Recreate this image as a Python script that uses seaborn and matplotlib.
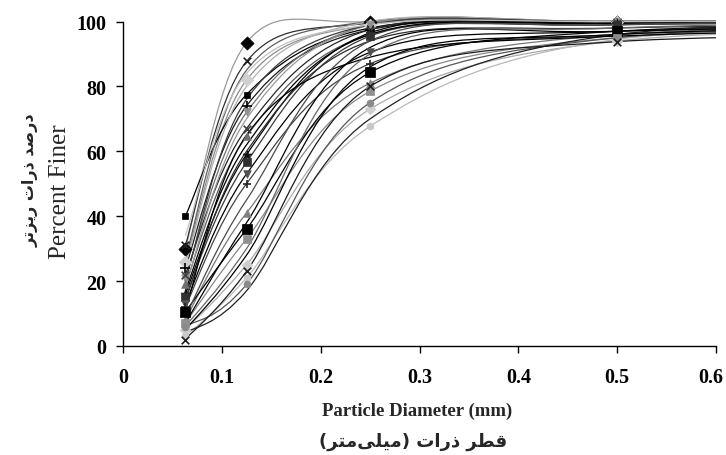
import numpy as np
import pandas as pd
import matplotlib
matplotlib.use("Agg")
import matplotlib.pyplot as plt
from matplotlib.path import Path
from matplotlib.patches import PathPatch
from matplotlib.transforms import ScaledTranslation
import seaborn as sns

# ---------------- data ----------------
diameters = [0.063, 0.125, 0.25, 0.5, 1.0]   # mm (1.0 lies beyond the visible range)

s01 = [30, 93.5, 100, 100, 100]
s02 = [31, 87.7, 99.5, 100, 100]
s03 = [26, 82, 99, 100, 100]
s04 = [40, 77.5, 98, 100, 100]
s05 = [24, 74, 97.5, 99.5, 100]
s06 = [21, 72, 99, 100, 100]
s07 = [22, 67, 97.5, 99.5, 100]
s08 = [19, 64.6, 96, 99, 100]
s09 = [16, 59, 96.5, 99.5, 100]
s10 = [15, 56.6, 95.5, 99, 100]
s11 = [13, 53, 90.5, 97, 99]
s12 = [12, 50, 87, 96, 99]
s13 = [8, 41, 81, 96, 99]
s14 = [10.5, 36, 84.3, 97, 99]
s15 = [7, 33, 78.5, 95, 98.5]
s16 = [5, 25, 73, 94, 98]
s17 = [3, 21, 67.7, 94.5, 98]
s18 = [6, 19, 75, 95, 99]
s19 = [4, 17, 70, 96, 99.5]
s20 = [2, 23, 80, 93.8, 95.5]
s21 = [27, 85, 100, 100, 100]
s22 = [18, 70, 99, 100, 100]
s23 = [17, 62, 96, 99.5, 100]
s24 = [14, 60, 94, 98, 99.5]
s25 = [11, 65, 89, 95.5, 98.5]
s26 = [9, 45, 94, 99, 100]
s27 = [7, 38, 92, 97, 99]
s28 = [6, 30, 90, 98, 100]
s29 = [25, 80, 100, 100, 100]
s30 = [20, 76, 99, 100, 100]
s31 = [5, 28, 86, 96, 99]
s32 = [34, 84, 99, 100, 100]

series = [s01, s02, s03, s04, s05, s06, s07, s08, s09, s10, s11, s12, s13, s14,
          s15, s16, s17, s18, s19, s20, s21, s22, s23, s24, s25, s26, s27, s28,
          s29, s30, s31, s32]
names = ["S%02d" % (i + 1) for i in range(len(series))]

line_colors = ["#9a9a9a", "#303030", "#8c8c8c", "#000000", "#1a1a1a", "#707070",
               "#262626", "#5a5a5a", "#000000", "#3a3a3a", "#000000", "#444444",
               "#777777", "#000000", "#888888", "#aaaaaa", "#b8b8b8", "#555555",
               "#202020", "#1a1a1a", "#606060", "#999999", "#000000", "#2d2d2d",
               "#000000", "#4a4a4a", "#000000", "#666666", "#b0b0b0", "#3c3c3c",
               "#000000", "#c0c0c0"]
marker_styles = ["D", "x", "D", "s", "+", "v", "x", "^", "*", "s", "v", "+",
                 "^", "s", "s", "D", "o", "o", "", "x", "", "", "", "",
                 "", "", "", "", "", "", "", ""]
marker_colors = ["#000000", "#202020", "#d0d0d0", "#000000", "#000000", "#909090",
                 "#404040", "#707070", "#101010", "#303030", "#505050", "#222222",
                 "#808080", "#000000", "#909090", "#cfcfcf", "#c8c8c8", "#8a8a8a",
                 "#000000", "#202020", "#000000", "#000000", "#000000", "#000000",
                 "#000000", "#000000", "#000000", "#000000", "#000000", "#000000",
                 "#000000", "#000000"]
marker_sizes = [45, 30, 40, 18, 45, 30, 30, 30, 45, 30, 30, 40,
                30, 60, 30, 30, 25, 25, 0, 30, 0, 0, 0, 0,
                0, 0, 0, 0, 0, 0, 0, 0]

x_ticks = [0, 0.1, 0.2, 0.3, 0.4, 0.5, 0.6]
x_tick_labels = ["0", "0.1", "0.2", "0.3", "0.4", "0.5", "0.6"]
y_ticks = [0, 20, 40, 60, 80, 100]
y_tick_labels = ["0", "20", "40", "60", "80", "100"]

x_label_en = "Particle Diameter (mm)"
x_label_fa = "قطر ذرات (میلی\u200cمتر)"
y_label_en = "Percent Finer"
y_label_fa = "درصد ذرات ریزتر"

# ---------------- Persian shaping (matplotlib has no bidi/shaping) ----------------
FORMS = {
    'ا': ('\uFE8D', '\uFE8E', None, None),
    'ت': ('\uFE95', '\uFE96', '\uFE97', '\uFE98'),
    'د': ('\uFEA9', '\uFEAA', None, None),
    'ذ': ('\uFEAB', '\uFEAC', None, None),
    'ر': ('\uFEAD', '\uFEAE', None, None),
    'ز': ('\uFEAF', '\uFEB0', None, None),
    'ص': ('\uFEB9', '\uFEBA', '\uFEBB', '\uFEBC'),
    'ط': ('\uFEC1', '\uFEC2', '\uFEC3', '\uFEC4'),
    'ق': ('\uFED5', '\uFED6', '\uFED7', '\uFED8'),
    'ل': ('\uFEDD', '\uFEDE', '\uFEDF', '\uFEE0'),
    'م': ('\uFEE1', '\uFEE2', '\uFEE3', '\uFEE4'),
    'ی': ('\uFEEF', '\uFEF0', '\uFEF3', '\uFEF4'),
}


def shape_rtl(text):
    chars = list(text)
    out = []
    for i, c in enumerate(chars):
        if c == '\u200c':
            continue
        if c not in FORMS:
            out.append(c)
            continue
        iso, fin, ini, med = FORMS[c]
        prev = chars[i - 1] if i > 0 else None
        nxt = chars[i + 1] if i + 1 < len(chars) else None
        jp = prev in FORMS and FORMS[prev][2] is not None
        jn = ini is not None and nxt in FORMS
        if jp and jn:
            out.append(med)
        elif jp:
            out.append(fin)
        elif jn:
            out.append(ini)
        else:
            out.append(iso)
    mirror = {'(': ')', ')': '('}
    return ''.join(mirror.get(c, c) for c in reversed(out))


# ---------------- figure ----------------
sns.set_theme(style="ticks")
plt.rcParams['font.family'] = ['Liberation Serif', 'DejaVu Sans']

W, H = 726, 456
fig = plt.figure(figsize=(W / 100, H / 100), dpi=100)
x0, x1 = 123, 716
y0, y100 = 347, 22.5
px_per_unit = (y0 - y100) / 100
ytop = 102
ax = fig.add_axes([x0 / W, 1 - y0 / H, (x1 - x0) / W, ytop * px_per_unit / H])


def smooth_path(xs, ys):
    P = np.column_stack([xs, ys]).astype(float)
    n = len(P)
    verts = [P[0]]
    codes = [Path.MOVETO]
    for i in range(n - 1):
        p0 = P[i - 1] if i > 0 else P[i]
        p1 = P[i]
        p2 = P[i + 1]
        p3 = P[i + 2] if i + 2 < n else P[i + 1]
        c1 = p1 + (p2 - p0) / 6.0
        c2 = p2 - (p3 - p1) / 6.0
        verts += [c1, c2, p2]
        codes += [Path.CURVE4] * 3
    return Path(verts, codes)


for name, vals, lc, mk, mc, ms in zip(names, series, line_colors, marker_styles,
                                      marker_colors, marker_sizes):
    patch = PathPatch(smooth_path(diameters, vals), facecolor="none",
                      edgecolor=lc, lw=0.9, zorder=2)
    ax.add_patch(patch)
    if mk:
        df = pd.DataFrame({"diameter": diameters, "percent": vals})
        if mk in ("x", "+"):
            sns.scatterplot(data=df, x="diameter", y="percent", marker=mk,
                            color=mc, s=ms, linewidth=1.2, ax=ax, zorder=3,
                            legend=False)
        else:
            sns.scatterplot(data=df, x="diameter", y="percent", marker=mk,
                            color=mc, s=ms, edgecolor=mc, linewidth=0.5,
                            ax=ax, zorder=3, legend=False)

ax.set_xlim(0, 0.6)
ax.set_ylim(0, ytop)
ax.set_xticks(x_ticks)
ax.set_xticklabels(x_tick_labels)
ax.set_yticks(y_ticks)
ax.set_yticklabels(y_tick_labels)
ax.set_xlabel("")
ax.set_ylabel("")
for lab in ax.get_xticklabels() + ax.get_yticklabels():
    lab.set_fontfamily("Liberation Serif")
    lab.set_fontweight("bold")
    lab.set_fontsize(14.5)
    lab.set_color("black")
ax.tick_params(axis="both", direction="out", length=5, width=1, color="black")
ax.tick_params(axis="x", pad=10)
ax.tick_params(axis="y", pad=7)
last = ax.get_xticklabels()[-1]
last.set_transform(last.get_transform() + ScaledTranslation(-5 / 100, 0, fig.dpi_scale_trans))
ax.spines["top"].set_visible(False)
ax.spines["right"].set_visible(False)
ax.spines["left"].set_bounds(0, 100)
for sp in ("left", "bottom"):
    ax.spines[sp].set_color("black")
    ax.spines[sp].set_linewidth(1)
ax.set_facecolor("white")
fig.patch.set_facecolor("white")

fig.text(417 / W, 1 - 411 / H, x_label_en, ha="center", va="center",
         fontsize=13.5, fontweight="bold", family=["Liberation Serif"])
fig.text(413 / W, 1 - 442 / H, shape_rtl(x_label_fa), ha="center", va="center",
         fontsize=13, fontweight="bold", family=["DejaVu Sans"])
fig.text(60 / W, 1 - 192 / H, y_label_en, ha="center", va="center",
         rotation=90, fontsize=18, family=["Liberation Serif"])
fig.text(31 / W, 1 - 180 / H, shape_rtl(y_label_fa), ha="center", va="center",
         rotation=90, fontsize=11.5, fontweight="bold", family=["DejaVu Sans"])

fig.savefig("out.png", dpi=100, facecolor="white")
